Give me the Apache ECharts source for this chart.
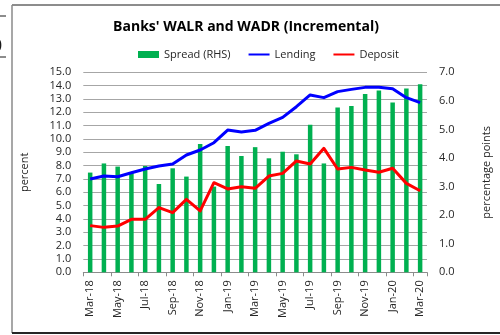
<!DOCTYPE html>
<html>
<head>
<meta charset="utf-8">
<script src="https://cdn.jsdelivr.net/npm/echarts@6/dist/echarts.min.js"></script>
<style>
  html, body { margin: 0; padding: 0; background: #fff; }
  #chart { width: 500px; height: 335px; }
</style>
</head>
<body>
<div id="chart"></div>
<script>
// Monthly categories
const months = ['Mar-18','Apr-18','May-18','Jun-18','Jul-18','Aug-18','Sep-18','Oct-18','Nov-18','Dec-18',
  'Jan-19','Feb-19','Mar-19','Apr-19','May-19','Jun-19','Jul-19','Aug-19','Sep-19','Oct-19','Nov-19','Dec-19',
  'Jan-20','Feb-20','Mar-20'];

// Spread between lending and deposit rates (percentage points, right axis)
const spread = [3.49, 3.81, 3.70, 3.47, 3.72, 3.09, 3.64, 3.35, 4.49, 3.00, 4.42, 4.07, 4.38,
  3.99, 4.22, 4.13, 5.16, 3.81, 5.77, 5.82, 6.24, 6.36, 5.94, 6.43, 6.58];

// Weighted average lending rate, incremental (percent)
const lending = [7.00, 7.22, 7.17, 7.47, 7.75, 7.97, 8.12, 8.80, 9.17, 9.72, 10.67, 10.52, 10.65,
  11.17, 11.62, 12.42, 13.30, 13.10, 13.55, 13.72, 13.87, 13.87, 13.77, 13.10, 12.72];

// Weighted average deposit rate, incremental (percent)
const deposit = [3.50, 3.37, 3.47, 3.97, 3.97, 4.85, 4.47, 5.47, 4.60, 6.72, 6.25, 6.42, 6.30,
  7.22, 7.42, 8.35, 8.12, 9.30, 7.75, 7.87, 7.67, 7.50, 7.80, 6.67, 6.12];

// Axis ranges
const leftAxis = { min: 0, max: 15, step: 1 };
const rightAxis = { min: 0, max: 7, step: 1 };

const FONT = 'Open Sans';
const TXT = '#262626';

const chart = echarts.init(document.getElementById('chart'), null, { renderer: 'canvas' });

chart.setOption({
  animation: false,
  backgroundColor: '#fff',
  textStyle: { fontFamily: FONT },
  title: {
    text: "Banks' WALR and WADR (Incremental)",
    left: 241, top: 15, textAlign: 'center',
    textStyle: { fontFamily: FONT, fontSize: 14, fontWeight: 'bold', color: '#000' }
  },
  legend: {
    left: 133, top: 44,
    itemWidth: 21, itemHeight: 7, itemGap: 17,
    textStyle: { fontFamily: FONT, fontSize: 11, color: TXT },
    data: [
      { name: 'Spread (RHS)', icon: 'rect' },
      // line-only keys: hide the marker drawn in the middle of the key line
      { name: 'Lending', itemStyle: { opacity: 0 } },
      { name: 'Deposit', itemStyle: { opacity: 0 } }
    ]
  },
  grid: { left: 83.3, right: 56.7, top: 72.3, bottom: 62.7, containLabel: false },
  xAxis: {
    type: 'category',
    data: months,
    boundaryGap: true,
    axisLine: { show: true, lineStyle: { color: '#8c8c8c', width: 1 } },
    axisTick: { show: true, interval: 1, length: 4, lineStyle: { color: '#8c8c8c' } },
    axisLabel: { interval: 1, rotate: 90, fontSize: 11, color: TXT, margin: 8, fontFamily: FONT }
  },
  yAxis: [
    {
      type: 'value', min: leftAxis.min, max: leftAxis.max, interval: leftAxis.step,
      name: 'percent', nameLocation: 'middle', nameGap: 53, nameRotate: 90,
      nameTextStyle: { fontFamily: FONT, fontSize: 11, color: TXT },
      axisLine: { show: false }, axisTick: { show: false },
      axisLabel: { fontSize: 11, color: TXT, margin: 12, fontFamily: FONT,
        formatter: v => v.toFixed(1) },
      splitLine: { show: true, lineStyle: { color: '#a6a6a6', width: 1 } }
    },
    {
      type: 'value', min: rightAxis.min, max: rightAxis.max, interval: rightAxis.step,
      position: 'right',
      name: 'percentage points', nameLocation: 'middle', nameGap: 54, nameRotate: 90,
      nameTextStyle: { fontFamily: FONT, fontSize: 11, color: TXT },
      axisLine: { show: false }, axisTick: { show: false },
      axisLabel: { fontSize: 11, color: TXT, margin: 12, fontFamily: FONT,
        formatter: v => v.toFixed(1) },
      splitLine: { show: false }
    }
  ],
  series: [
    {
      name: 'Spread (RHS)', type: 'bar', yAxisIndex: 1, data: spread,
      barWidth: 4.5, itemStyle: { color: '#00b050' }, z: 1
    },
    {
      name: 'Lending', type: 'line', yAxisIndex: 0, data: lending,
      symbol: 'none', lineStyle: { color: '#0000ff', width: 3, join: 'round' },
      itemStyle: { color: '#0000ff' }, z: 3
    },
    {
      name: 'Deposit', type: 'line', yAxisIndex: 0, data: deposit,
      symbol: 'none', lineStyle: { color: '#ff0000', width: 3, join: 'round' },
      itemStyle: { color: '#ff0000' }, z: 3
    }
  ],
  graphic: [
    // chart frame
    { type: 'line', shape: { x1: 12, y1: 5, x2: 500, y2: 5 }, style: { stroke: '#1a1a1a', lineWidth: 1 } },
    { type: 'line', shape: { x1: 12, y1: 5, x2: 12, y2: 333 }, style: { stroke: '#8a8a8a', lineWidth: 1.5 } },
    { type: 'line', shape: { x1: 12, y1: 333, x2: 500, y2: 333 }, style: { stroke: '#262626', lineWidth: 2 } },
    // page fragments at the left edge
    { type: 'line', shape: { x1: 0, y1: 16, x2: 6, y2: 16 }, style: { stroke: '#1a1a1a', lineWidth: 1 } },
    { type: 'line', shape: { x1: 0, y1: 57, x2: 6, y2: 57 }, style: { stroke: '#1a1a1a', lineWidth: 1 } },
    { type: 'text', left: -7, top: 38, style: { text: '0', fontFamily: FONT, fontSize: 16, fill: '#1a1a1a' } }
  ]
});
</script>
</body>
</html>
